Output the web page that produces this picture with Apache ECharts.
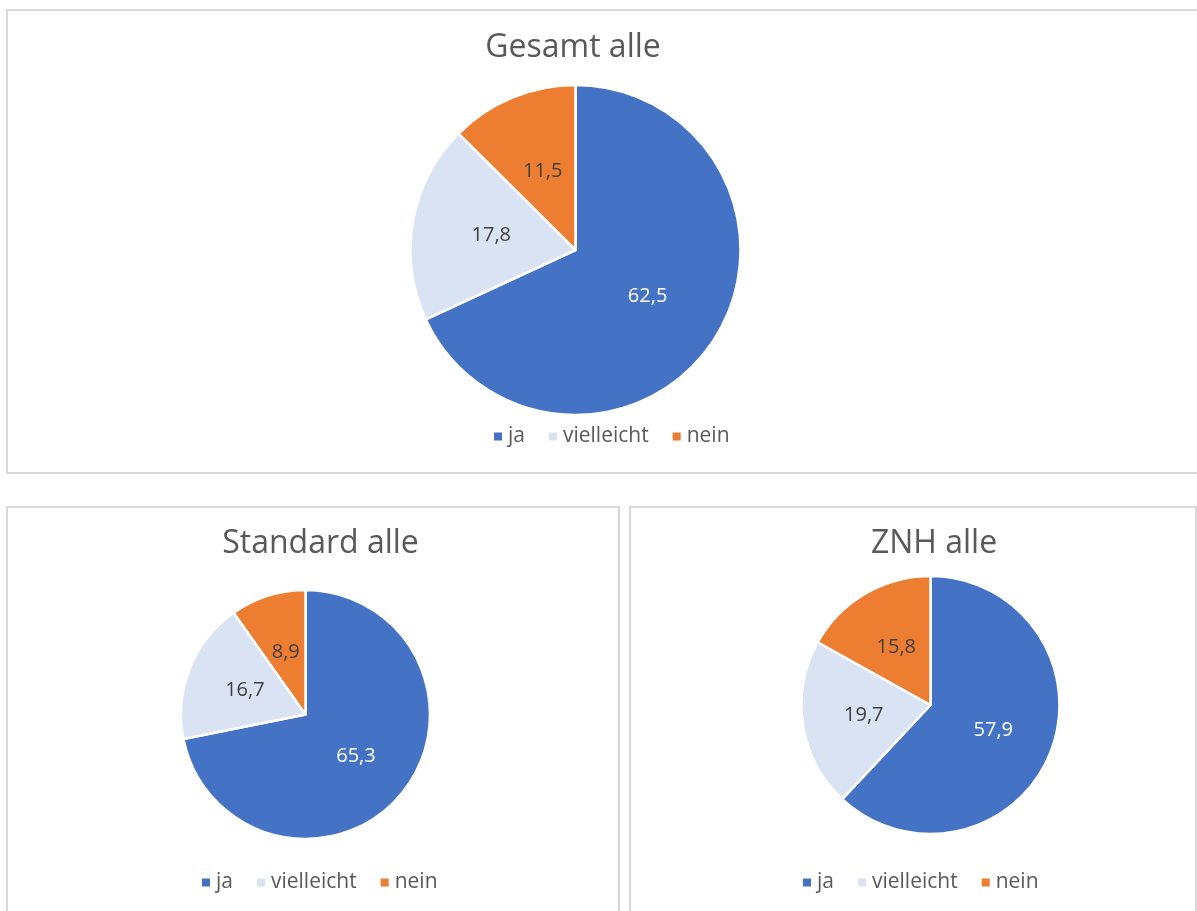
<!DOCTYPE html>
<html>
<head>
<meta charset="utf-8">
<script src="https://cdn.jsdelivr.net/npm/echarts@6/dist/echarts.min.js"></script>
<style>
html,body{margin:0;padding:0;background:#fff;}
#c{width:1197px;height:911px;}
</style>
</head>
<body>
<div id="c"></div>
<script>
const categories = ['ja', 'vielleicht', 'nein'];
const colors = ['#4472C4', '#DAE3F3', '#ED7D31'];
const titles = ['Gesamt alle', 'Standard alle', 'ZNH alle'];
const gesamtValues = [62.5, 17.8, 11.5];
const standardValues = [65.3, 16.7, 8.9];
const znhValues = [57.9, 19.7, 15.8];

const FONT = '"Open Sans", "Noto Sans", sans-serif';
const chart = echarts.init(document.getElementById('c'), null, {renderer: 'canvas'});

function mkData(vals) {
  return vals.map((v, i) => ({
    name: categories[i],
    value: v,
    itemStyle: {color: colors[i]},
    label: {color: i === 0 ? '#ffffff' : '#404040'}
  }));
}

function pie(vals, center, radius) {
  return {
    type: 'pie',
    center: center,
    radius: radius,
    startAngle: 90,
    clockwise: true,
    avoidLabelOverlap: false,
    emphasis: {disabled: true},
    itemStyle: {borderColor: '#ffffff', borderWidth: 2.5},
    label: {
      show: true,
      position: 'inside',
      fontFamily: FONT,
      fontSize: 20,
      formatter: p => String(p.value).replace('.', ',')
    },
    labelLine: {show: false},
    data: mkData(vals)
  };
}

function legend(left, top) {
  return {
    data: categories,
    left: left,
    top: top,
    orient: 'horizontal',
    icon: 'rect',
    itemWidth: 10,
    itemHeight: 10,
    itemGap: 22,
    selectedMode: false,
    textStyle: {fontFamily: FONT, fontSize: 21, color: '#595959', padding: [0, 0, 0, 0]}
  };
}

function title(text, cx, top) {
  return {
    text: text,
    left: cx,
    top: top,
    textAlign: 'center',
    textStyle: {fontFamily: FONT, fontSize: 32, fontWeight: 'normal', color: '#595959'}
  };
}

chart.setOption({
  animation: false,
  backgroundColor: '#ffffff',
  title: [
    title(titles[0], 568, 27),
    title(titles[1], 315.5, 523),
    title(titles[2], 929, 523)
  ],
  legend: [
    legend(487, 421),
    legend(195, 867),
    legend(796, 867)
  ],
  graphic: [
    {type: 'rect', shape: {x: 7, y: 10, width: 1194, height: 463}, style: {fill: 'none', stroke: '#d9d9d9', lineWidth: 2}},
    {type: 'rect', shape: {x: 7, y: 507, width: 612, height: 420}, style: {fill: 'none', stroke: '#d9d9d9', lineWidth: 2}},
    {type: 'rect', shape: {x: 630, y: 507, width: 566, height: 420}, style: {fill: 'none', stroke: '#d9d9d9', lineWidth: 2}}
  ],
  series: [
    pie(gesamtValues, [575.5, 250], 165),
    pie(standardValues, [305.5, 714.5], 124.5),
    pie(znhValues, [930.5, 705], 129)
  ]
});
</script>
</body>
</html>
